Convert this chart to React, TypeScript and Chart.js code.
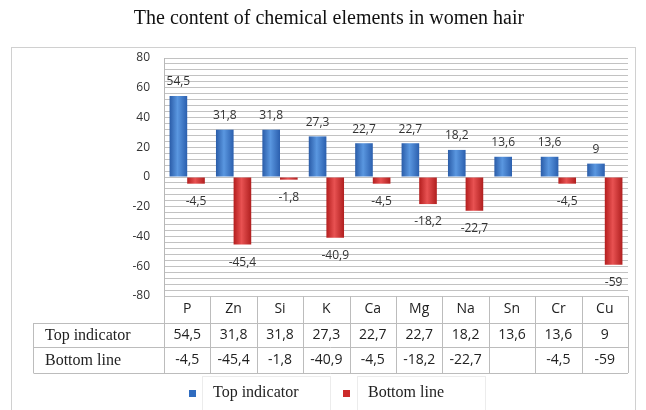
import React, { useEffect, useRef } from 'react';
import { Chart, registerables } from 'chart.js';
Chart.register(...registerables);

const TITLE = 'The content of chemical elements in women hair';
const categories = ['P', 'Zn', 'Si', 'K', 'Ca', 'Mg', 'Na', 'Sn', 'Cr', 'Cu'];
const topIndicator = [54.5, 31.8, 31.8, 27.3, 22.7, 22.7, 18.2, 13.6, 13.6, 9];
const bottomLine: (number | null)[] = [-4.5, -45.4, -1.8, -40.9, -4.5, -18.2, -22.7, null, -4.5, -59];
const seriesNames = ['Top indicator', 'Bottom line'];
const yMin = -80;
const yMax = 80;
const labelStep = 20;
const gridStep = 4;

const fmt = (v: number | null) => (v === null || v === undefined ? '' : String(v).replace('.', ','));

const SANS = '"Open Sans", "Liberation Sans", sans-serif';
const SERIF = '"Liberation Serif", "Times New Roman", serif';

const gradStops = [
  ['#2a5ca8', '#5a97e0', '#2b5fae'],
  ['#b41e1e', '#e85252', '#b01f1f'],
];
const swatch = ['#2f6cc0', '#cc2b2b'];

const barFill = (di: number) => (c: any) => {
  const el = c.element;
  const chart = c.chart;
  if (el && chart && chart.ctx) {
    const { x, width } = el.getProps(['x', 'width'], true);
    if (isFinite(x) && isFinite(width) && width > 0) {
      const g = chart.ctx.createLinearGradient(x - width / 2, 0, x + width / 2, 0);
      const s = gradStops[di];
      g.addColorStop(0, s[0]);
      g.addColorStop(0.45, s[1]);
      g.addColorStop(1, s[2]);
      return g;
    }
  }
  return swatch[di];
};

const decorPlugin = {
  id: 'decor',
  beforeDatasetsDraw(chart: any) {
    const ctx = chart.ctx;
    chart.data.datasets.forEach((_: any, di: number) => {
      const meta = chart.getDatasetMeta(di);
      meta.data.forEach((el: any) => {
        const { x, width } = el.getProps(['x', 'width'], true);
        if (!isFinite(x) || !isFinite(width)) return;
        const g = ctx.createLinearGradient(x - width / 2, 0, x + width / 2, 0);
        const s = gradStops[di];
        g.addColorStop(0, s[0]);
        g.addColorStop(0.45, s[1]);
        g.addColorStop(1, s[2]);
        if (el.options && !el.$shared) {
          el.options.backgroundColor = g;
        }
      });
    });
  },
  afterDatasetsDraw(chart: any) {
    const ctx = chart.ctx;
    ctx.save();
    ctx.font = '12px ' + SANS;
    ctx.fillStyle = '#333';
    ctx.textAlign = 'center';
    ctx.textBaseline = 'middle';
    chart.data.datasets.forEach((ds: any, di: number) => {
      const meta = chart.getDatasetMeta(di);
      meta.data.forEach((el: any, i: number) => {
        const v = ds.data[i];
        if (v === null || v === undefined) return;
        const { x, y } = el.getProps(['x', 'y'], true);
        if (v >= 0) ctx.fillText(fmt(v), x, y - 14);
        else ctx.fillText(fmt(v), x, y + 18);
      });
    });
    ctx.restore();
  },
  afterDraw(chart: any) {
    const ctx = chart.ctx;
    const ca = chart.chartArea;
    const xs = chart.scales.x;
    const n = categories.length;
    const colW = (ca.right - ca.left) / n;
    ctx.save();
    // frame
    ctx.strokeStyle = '#d0d0d0';
    ctx.lineWidth = 1;
    ctx.strokeRect(11.5, 47.5, 624, 380);
    // title
    ctx.fillStyle = '#111';
    ctx.font = '20px ' + SERIF;
    ctx.textAlign = 'center';
    ctx.textBaseline = 'middle';
    ctx.fillText(TITLE, 329, 19);

    // table
    const rows = [ca.bottom, ca.bottom + 27, ca.bottom + 51, ca.bottom + 77];
    const headLeft = 33.5;
    ctx.strokeStyle = '#bcbcbc';
    ctx.beginPath();
    for (let i = 0; i <= n; i++) {
      const ex = Math.round(xs.getPixelForValue(0) - colW / 2 + i * colW) + 0.5;
      ctx.moveTo(ex, rows[0]);
      ctx.lineTo(ex, rows[3]);
    }
    ctx.moveTo(headLeft, rows[1]);
    ctx.lineTo(headLeft, rows[3]);
    for (let r = 1; r <= 3; r++) {
      const yy = Math.round(rows[r]) + 0.5;
      ctx.moveTo(headLeft, yy);
      ctx.lineTo(ca.right, yy);
    }
    ctx.stroke();

    ctx.fillStyle = '#222';
    ctx.font = '14px ' + SANS;
    ctx.textAlign = 'center';
    categories.forEach((c, i) => {
      const cx = xs.getPixelForValue(i);
      ctx.fillText(c, cx, (rows[0] + rows[1]) / 2);
      ctx.fillText(fmt(topIndicator[i]), cx, (rows[1] + rows[2]) / 2);
      ctx.fillText(fmt(bottomLine[i]), cx, (rows[2] + rows[3]) / 2);
    });
    ctx.font = '16px ' + SERIF;
    ctx.textAlign = 'left';
    ctx.fillText(seriesNames[0], 45, (rows[1] + rows[2]) / 2 + 1);
    ctx.fillText(seriesNames[1], 45, (rows[2] + rows[3]) / 2 + 1);

    // legend
    const legendItems = [
      { sx: 189, tx: 213, box: [202.5, 376.5, 128, 40] },
      { sx: 343, tx: 368, box: [357.5, 376.5, 128, 40] },
    ];
    legendItems.forEach((it, i) => {
      ctx.strokeStyle = '#ececec';
      ctx.strokeRect(it.box[0], it.box[1], it.box[2], it.box[3]);
      ctx.fillStyle = swatch[i];
      ctx.fillRect(it.sx, 390, 7, 7);
      ctx.fillStyle = '#222';
      ctx.font = '16px ' + SERIF;
      ctx.textAlign = 'left';
      ctx.fillText(seriesNames[i], it.tx, 393);
    });
    ctx.restore();
  },
};

export default function App() {
  const ref = useRef<HTMLCanvasElement>(null);
  useEffect(() => {
    if (!ref.current) return;
    const chart = new Chart(ref.current, {
      type: 'bar',
      data: {
        labels: categories,
        datasets: [
          { label: seriesNames[0], data: topIndicator, borderWidth: 0, backgroundColor: barFill(0) as any },
          { label: seriesNames[1], data: bottomLine as any, borderWidth: 0, backgroundColor: barFill(1) as any },
        ],
      },
      options: {
        animation: false,
        responsive: false,
        maintainAspectRatio: false,
        layout: { padding: { left: 0, right: 18, top: 58, bottom: 114 } },
        datasets: { bar: { categoryPercentage: 0.76, barPercentage: 1.0 } },
        plugins: { legend: { display: false }, title: { display: false }, tooltip: { enabled: false } },
        scales: {
          x: { display: false, offset: true, grid: { display: false } },
          y: {
            min: yMin,
            max: yMax,
            afterFit: (scale: any) => {
              scale.width = 164;
            },
            border: { display: true, color: '#b8b8b8' },
            grid: { color: '#c2c2c2', lineWidth: 1, drawTicks: false },
            ticks: {
              stepSize: gridStep,
              maxTicksLimit: 100,
              autoSkip: false,
              padding: 14,
              color: '#333',
              font: { family: SANS, size: 12 },
              callback: (v: any) => (Math.round(v) % labelStep === 0 ? String(Math.round(v)) : ''),
            },
          },
        },
      },
      plugins: [decorPlugin],
    });
    return () => chart.destroy();
  }, []);
  return (
    <div style={{ position: 'fixed', left: 0, top: 0, width: 646, height: 410, background: '#fff' }}>
      <canvas ref={ref} width={646} height={410} style={{ width: 646, height: 410, display: 'block' }} />
    </div>
  );
}
